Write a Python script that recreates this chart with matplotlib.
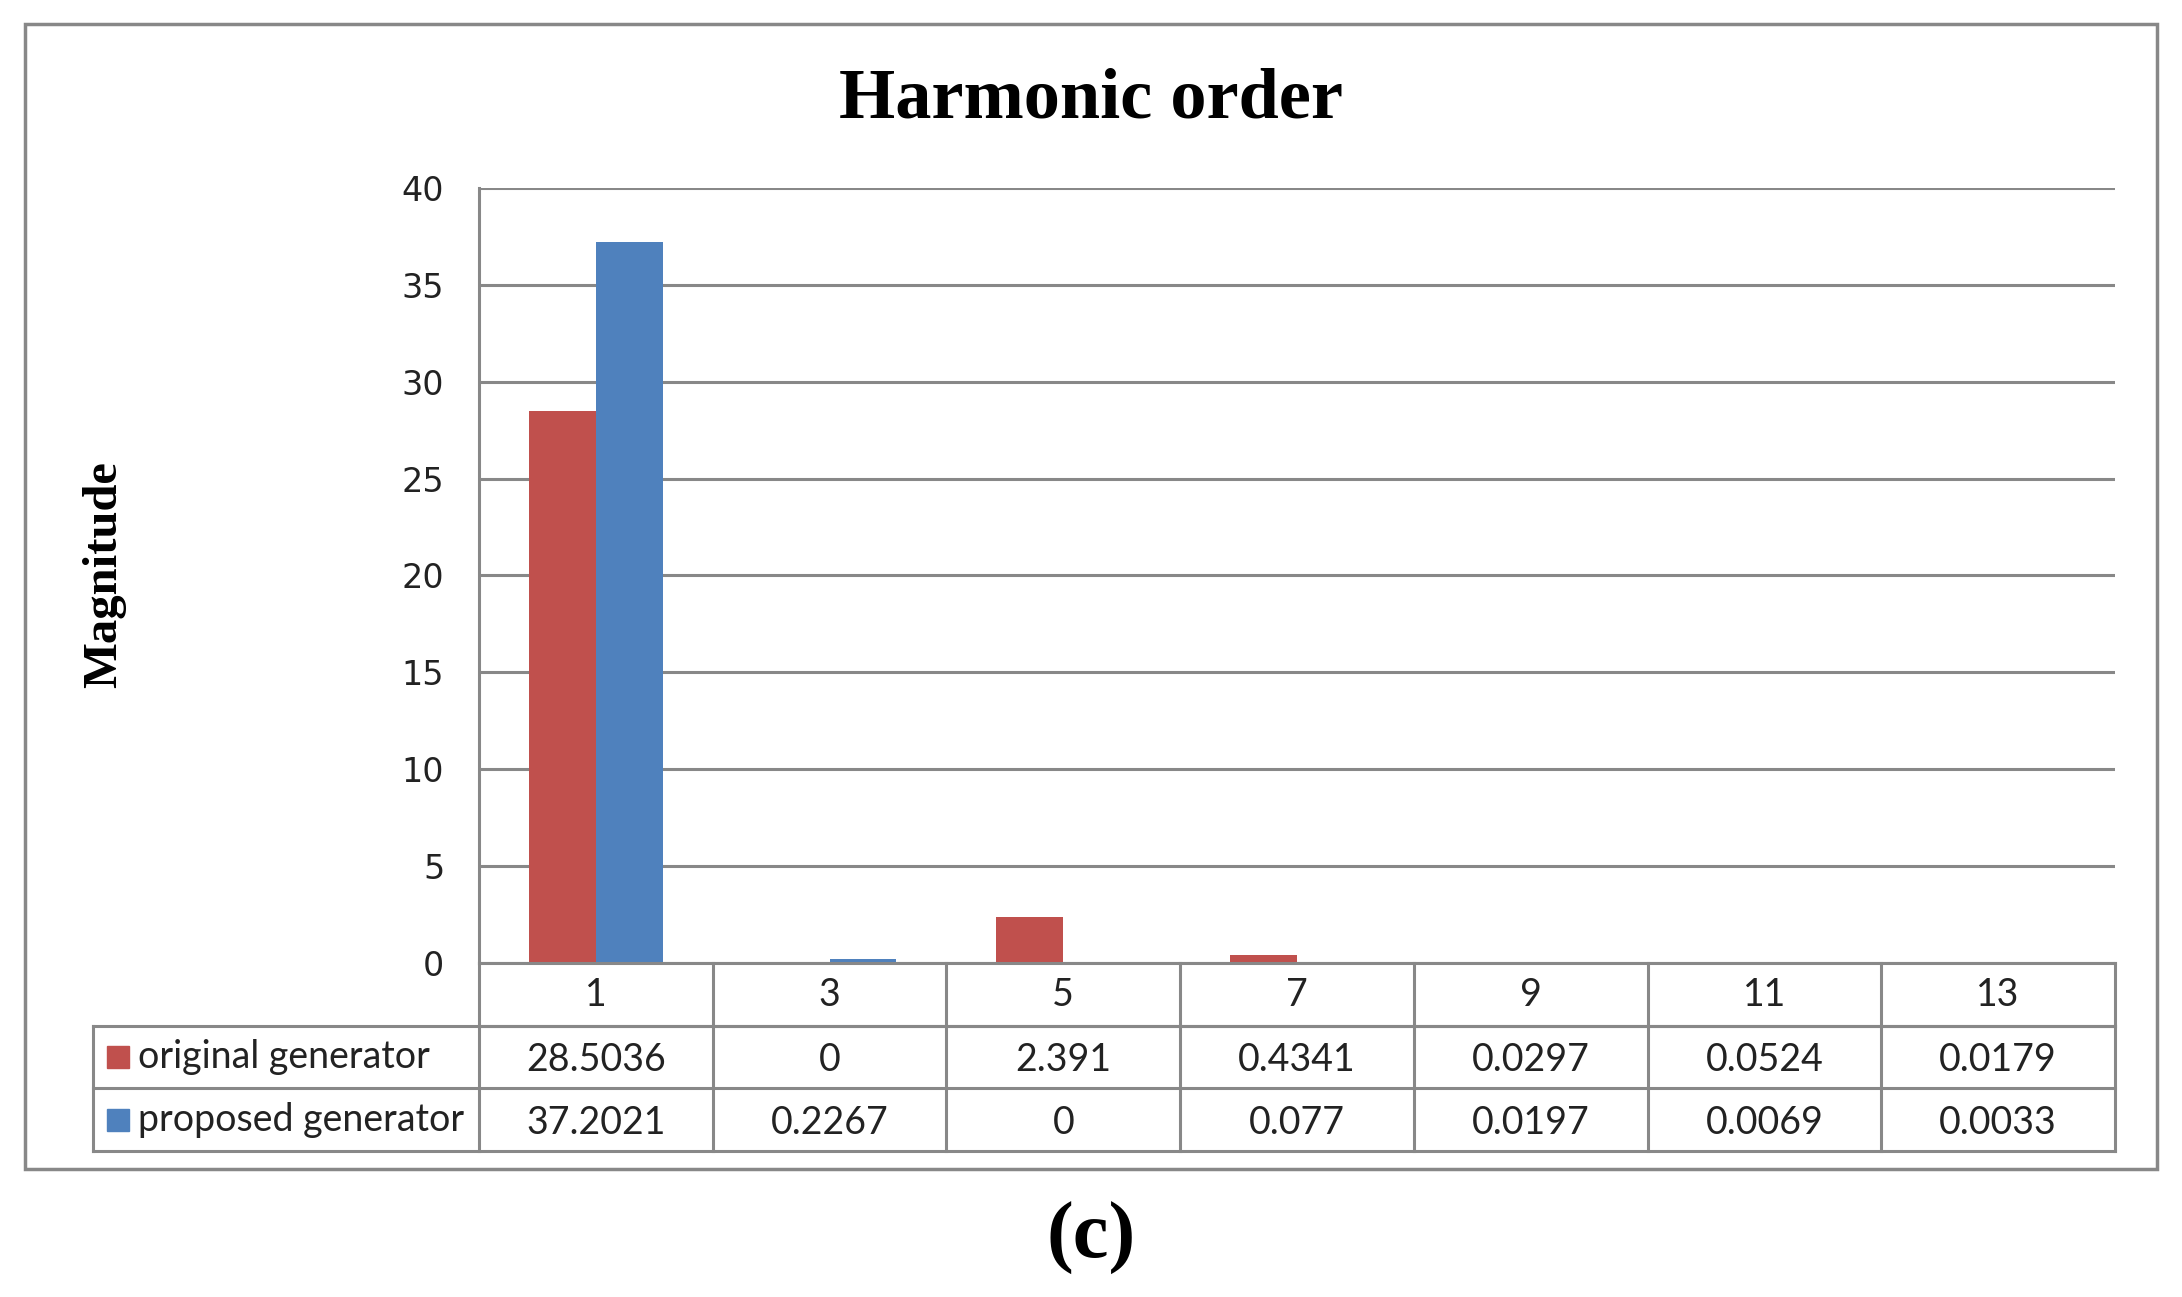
import numpy as np
import matplotlib.pyplot as plt
from matplotlib.patches import Rectangle
from matplotlib.transforms import blended_transform_factory

# data
orders = ['1', '3', '5', '7', '9', '11', '13']
original = [28.5036, 0, 2.391, 0.4341, 0.0297, 0.0524, 0.0179]
proposed = [37.2021, 0.2267, 0, 0.077, 0.0197, 0.0069, 0.0033]
series_names = ['original generator', 'proposed generator']
yticks = [0, 5, 10, 15, 20, 25, 30, 35, 40]

red = '#C0504D'
blue = '#4F81BD'
grey = '#888888'
W, H = 2182, 1297

fig = plt.figure(figsize=(W / 100, H / 100), dpi=100)

# plot area in pixels of the reference
left, right, top, bottom = 479, 2115, 188, 963
ax = fig.add_axes([left / W, 1 - bottom / H, (right - left) / W, (bottom - top) / H])

x = np.arange(len(orders))
bw = 0.286
ax.bar(x - bw / 2, original, bw, color=red, zorder=3)
ax.bar(x + bw / 2, proposed, bw, color=blue, zorder=3)

ax.set_xlim(-0.5, len(orders) - 0.5)
ax.set_ylim(0, 40)
ax.set_yticks(yticks)
ax.set_yticklabels([str(t) for t in yticks], fontsize=24, family='DejaVu Sans', color='#222222')
ax.tick_params(axis='y', length=0, pad=25)
ax.set_xticks([])
ax.yaxis.grid(True, color=grey, linewidth=2.2, zorder=0)
for s in ['top', 'right', 'bottom']:
    ax.spines[s].set_visible(False)
ax.spines['left'].set_color(grey)
ax.spines['left'].set_linewidth(2.2)

# data table under the plot
ph = bottom - top
rows_y = [0, -63 / ph, -125 / ph, -188 / ph]
tab_left = (93 - left) / (right - left)
tr = blended_transform_factory(ax.transData, ax.transAxes)
lw = 2.2
tfont = dict(family='Lato', fontsize=27, color='#222222')

# horizontal lines
ax.plot([-0.5, 6.5], [0, 0], transform=tr, color=grey, lw=lw, clip_on=False, zorder=4)
ax.plot([-0.5, 6.5], [rows_y[1]] * 2, transform=tr, color=grey, lw=lw, clip_on=False)
for yy in rows_y[1:]:
    ax.plot([tab_left, 1], [yy, yy], transform=ax.transAxes, color=grey, lw=lw, clip_on=False)
# vertical lines
for b in np.arange(-0.5, len(orders)):
    ax.plot([b, b], [0, rows_y[3]], transform=tr, color=grey, lw=lw, clip_on=False)
ax.plot([tab_left, tab_left], [rows_y[1], rows_y[3]], transform=ax.transAxes,
        color=grey, lw=lw, clip_on=False)

# header row and values
for i, o in enumerate(orders):
    ax.text(i, (rows_y[0] + rows_y[1]) / 2, o, transform=tr, ha='center', va='center', **tfont)
    ax.text(i, (rows_y[1] + rows_y[2]) / 2 - 0.004, f'{original[i]:g}', transform=tr,
            ha='center', va='center', **tfont)
    ax.text(i, (rows_y[2] + rows_y[3]) / 2 - 0.004, f'{proposed[i]:g}', transform=tr,
            ha='center', va='center', **tfont)

# row labels with colour keys
for k, (name, c) in enumerate(zip(series_names, [red, blue])):
    ymid = (rows_y[k + 1] + rows_y[k + 2]) / 2
    sq_x = (107 - left) / (right - left)
    sq_w = 22 / (right - left)
    sq_h = 22 / ph
    ax.add_patch(Rectangle((sq_x, ymid - sq_h / 2), sq_w, sq_h, transform=ax.transAxes,
                           color=c, clip_on=False))
    ax.text((138 - left) / (right - left), ymid, name, transform=ax.transAxes,
            ha='left', va='center', **tfont)

# outer frame
fig.patches.append(Rectangle((25 / W, 1 - 1169 / H), (2157 - 25) / W, (1169 - 24) / H,
                             transform=fig.transFigure, fill=False, edgecolor=grey, lw=2.5))

fig.text(0.5, 1 - 100 / H, 'Harmonic order', ha='center', va='center',
         family='Liberation Serif', fontweight='bold', fontsize=52)
fig.text(104 / W, 1 - 575 / H, 'Magnitude', ha='center', va='center', rotation=90,
         family='Liberation Serif', fontweight='bold', fontsize=35)
fig.text(0.5, 1 - 1238 / H, '(c)', ha='center', va='center',
         family='Liberation Serif', fontweight='bold', fontsize=58)

plt.savefig('out.png', dpi=100)
